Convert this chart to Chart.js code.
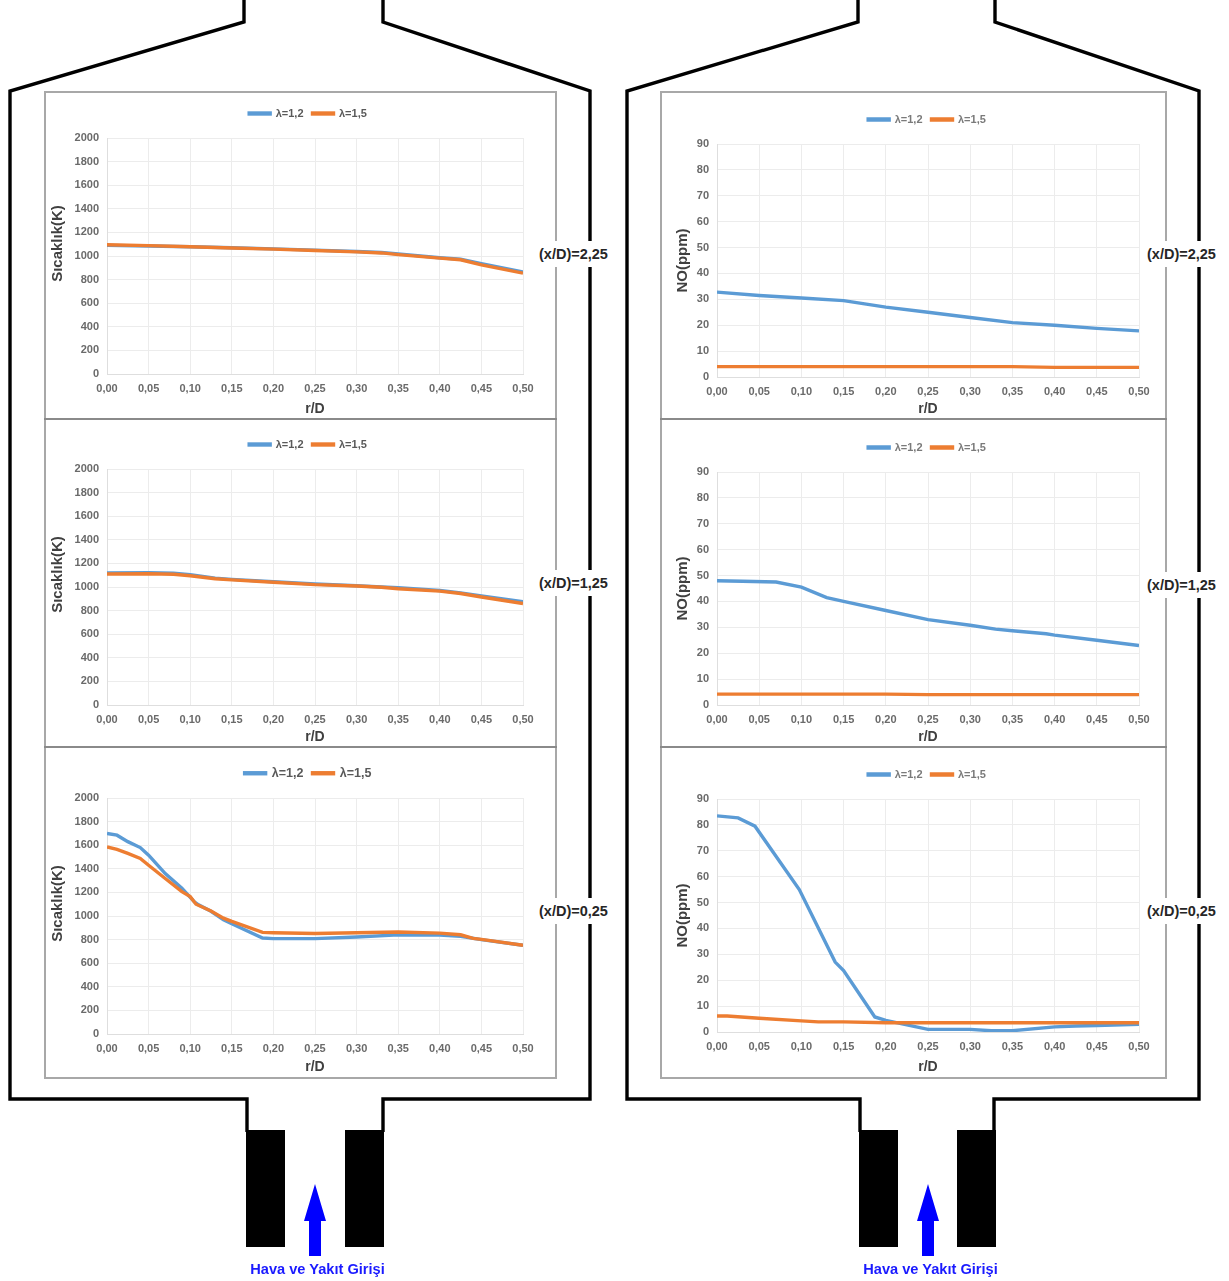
<!DOCTYPE html>
<html lang="tr">
<head>
<meta charset="utf-8">
<title>Sıcaklık ve NO dağılımı</title>
<script src="https://cdn.jsdelivr.net/npm/chart.js@4/dist/chart.umd.min.js"></script>
<style>
  html, body { margin: 0; padding: 0; background: #fff; }
  #stage { position: relative; width: 1229px; height: 1281px; overflow: hidden; filter: blur(0.6px); font-family: "Liberation Sans", Arial, sans-serif; }
  #stage svg { position: absolute; left: 0; top: 0; }
  #stage canvas { position: absolute; }
  .panel { position: absolute; box-sizing: border-box; border: 2px solid #a8a8a8; background: #fff; }
  .divider { position: absolute; height: 2px; background: #8a8a8a; }
  .station { position: absolute; background: #fff; font-weight: bold; font-size: 14.5px; color: #262626; padding: 5px 0; line-height: 16px; white-space: nowrap; }
  .inlet { position: absolute; font-weight: bold; font-size: 14.6px; color: #1a1aff; white-space: nowrap; transform: translateX(-50%); }
</style>
</head>
<body>
<div id="stage">
  <svg width="1229" height="1281" fill="none" stroke="#000" stroke-width="3.4">
    <polyline points="244,0 244,22 10,91 10,1099 247,1099 247,1132"/>
    <polyline points="383,1132 383,1099 590,1099 590,91 383,22 383,0"/>
    <polyline points="858,0 858,22 627,91 627,1099 860,1099 860,1132"/>
    <polyline points="994,1132 994,1099 1199,1099 1199,91 995,22 995,0"/>
    <g fill="#000" stroke="none">
      <rect x="246" y="1130" width="39" height="117"/>
      <rect x="345" y="1130" width="39" height="117"/>
      <rect x="859" y="1130" width="39" height="117"/>
      <rect x="957" y="1130" width="39" height="117"/>
    </g>
    <g fill="#0000ff" stroke="none">
      <polygon points="315,1184 326,1221 321,1221 321,1256 309,1256 309,1221 304,1221"/>
      <polygon points="928,1184 939,1221 934,1221 934,1256 922,1256 922,1221 917,1221"/>
    </g>
  </svg>

  <div class="panel" style="left:44px;top:91px;width:513px;height:988px"></div>
  <div class="divider" style="left:44px;top:418px;width:513px"></div>
  <div class="divider" style="left:44px;top:746px;width:513px"></div>
  <div class="panel" style="left:660px;top:91px;width:507px;height:988px"></div>
  <div class="divider" style="left:660px;top:418px;width:507px"></div>
  <div class="divider" style="left:660px;top:746px;width:507px"></div>

  <canvas id="tempTop"></canvas>
  <canvas id="tempMid"></canvas>
  <canvas id="tempLow"></canvas>
  <canvas id="noTop"></canvas>
  <canvas id="noMid"></canvas>
  <canvas id="noLow"></canvas>

  <div class="station" style="left:539px;top:241px">(x/D)=2,25</div>
  <div class="station" style="left:539px;top:570px">(x/D)=1,25</div>
  <div class="station" style="left:539px;top:898px">(x/D)=0,25</div>
  <div class="station" style="left:1147px;top:241px">(x/D)=2,25</div>
  <div class="station" style="left:1147px;top:572px">(x/D)=1,25</div>
  <div class="station" style="left:1147px;top:898px">(x/D)=0,25</div>

  <div class="inlet" style="left:317.5px;top:1261px">Hava ve Yakıt Girişi</div>
  <div class="inlet" style="left:930.5px;top:1261px">Hava ve Yakıt Girişi</div>
</div>

<script>
// values, [r/D, value]
const tempTopA = [[0,1090],[0.05,1085],[0.1,1078],[0.15,1070],[0.2,1060],[0.25,1050],[0.3,1038],[0.33,1030],[0.35,1018],[0.4,985],[0.425,972],[0.45,935],[0.5,865]];
const tempTopB = [[0,1095],[0.05,1088],[0.1,1078],[0.15,1068],[0.2,1058],[0.25,1047],[0.3,1035],[0.33,1026],[0.35,1012],[0.4,982],[0.425,968],[0.45,925],[0.5,855]];

const tempMidA = [[0,1120],[0.05,1122],[0.08,1118],[0.1,1105],[0.13,1075],[0.15,1065],[0.2,1045],[0.25,1025],[0.3,1010],[0.33,1000],[0.35,995],[0.4,970],[0.425,950],[0.45,925],[0.5,875]];
const tempMidB = [[0,1110],[0.05,1112],[0.08,1108],[0.1,1095],[0.13,1070],[0.15,1060],[0.2,1040],[0.25,1020],[0.3,1008],[0.33,998],[0.35,985],[0.4,965],[0.425,945],[0.45,915],[0.5,860]];

const tempLowA = [[0,1700],[0.012,1685],[0.025,1630],[0.04,1580],[0.05,1515],[0.07,1360],[0.09,1235],[0.105,1120],[0.11,1095],[0.125,1040],[0.14,968],[0.15,935],[0.187,813],[0.2,808],[0.25,808],[0.3,822],[0.35,840],[0.4,838],[0.425,828],[0.45,800],[0.5,752]];
const tempLowB = [[0,1585],[0.012,1565],[0.025,1530],[0.04,1487],[0.05,1430],[0.07,1318],[0.09,1206],[0.1,1164],[0.107,1100],[0.125,1043],[0.14,982],[0.15,954],[0.187,861],[0.2,858],[0.25,852],[0.3,858],[0.35,864],[0.4,855],[0.425,841],[0.44,810],[0.45,802],[0.5,752]];

const noTopA = [[0,32.8],[0.05,31.5],[0.1,30.5],[0.15,29.5],[0.2,27],[0.25,25],[0.3,23],[0.35,21],[0.4,20],[0.45,18.8],[0.5,17.8]];
const noTopB = [[0,4],[0.1,4],[0.2,4],[0.3,4],[0.35,4],[0.4,3.7],[0.5,3.7]];

const noMidA = [[0,48],[0.03,47.8],[0.07,47.5],[0.1,45.5],[0.13,41.5],[0.15,40],[0.2,36.5],[0.25,33],[0.3,30.8],[0.33,29.3],[0.35,28.7],[0.39,27.5],[0.4,27],[0.45,25],[0.5,23]];
const noMidB = [[0,4.2],[0.1,4.2],[0.2,4.2],[0.25,4],[0.35,4],[0.5,4]];

const noLowA = [[0,83.5],[0.025,82.7],[0.045,79.5],[0.0975,55],[0.14,27],[0.15,23.7],[0.187,5.8],[0.2,4.5],[0.25,1],[0.3,1],[0.325,0.5],[0.35,0.5],[0.4,2],[0.425,2.3],[0.45,2.5],[0.5,3]];
const noLowB = [[0,6.2],[0.012,6.2],[0.05,5.3],[0.1,4.3],[0.12,3.9],[0.15,3.9],[0.2,3.6],[0.25,3.6],[0.5,3.6]];

const seriesNames = ['λ=1,2', 'λ=1,5'];
const seriesColors = ['#5b9bd5', '#ed7d31'];
const tempLabel = '      Sıcaklık(K)'; // leading spaces lift it above the axis centre, as in the original
const noLabel = 'NO(ppm)';

function toPoints(pairs) {
  return pairs.map(p => ({ x: p[0], y: p[1] }));
}

// legend spacing and centre can't be set by options alone
function legendPlacer(gap, legendX) {
  return {
    id: 'legendPlacer',
    beforeInit(chart) {
      const fit = chart.legend.fit;
      chart.legend.fit = function () {
        fit.call(this);
        this.height += gap;
      };
    },
    afterLayout(chart) {
      const shift = legendX - (chart.legend.left + chart.legend.right) / 2;
      chart.legend.left += shift;
      chart.legend.right += shift;
    }
  };
}

// box = target plot area and where the legend sits
function drawPanel(id, a, b, yLabel, yMax, yStep, box) {
  const legendFont = box.legendFont || 11;
  const legendPad = 9;
  const top = box.legendY - legendPad - 5;
  const width = box.right + 46 - box.canvasLeft;
  const height = box.bottomEdge - top;
  const canvas = document.getElementById(id);
  canvas.width = width;
  canvas.height = height;
  canvas.style.left = box.canvasLeft + 'px';
  canvas.style.top = top + 'px';
  canvas.style.width = width + 'px';
  canvas.style.height = height + 'px';

  return new Chart(canvas, {
    type: 'line',
    plugins: [legendPlacer(box.top - top - 2 * legendPad - legendFont, box.legendX - box.canvasLeft)],
    data: {
      datasets: [a, b].map((pairs, i) => ({
        label: seriesNames[i],
        data: toPoints(pairs),
        borderColor: seriesColors[i],
        backgroundColor: seriesColors[i],
        borderWidth: 3.4,
        pointRadius: 0,
        tension: 0,
        order: -i
      }))
    },
    options: {
      responsive: false,
      animation: false,
      layout: { padding: { right: 46 } },
      plugins: {
        tooltip: { enabled: false },
        legend: {
          position: 'top',
          labels: {
            boxWidth: 21,
            boxHeight: 1,
            padding: legendPad,
            color: box.legendColor,
            sort: (x, y) => x.datasetIndex - y.datasetIndex,
            font: { family: 'Liberation Sans', weight: 'bold', size: legendFont }
          }
        }
      },
      scales: {
        x: {
          type: 'linear',
          min: 0,
          max: 0.5,
          afterFit: s => { s.height = box.bottomEdge - box.bottom; },
          title: { display: true, text: 'r/D', color: '#404040', padding: { top: 3, bottom: 0 }, font: { family: 'Liberation Sans', weight: 'bold', size: 14 } },
          grid: { color: '#ececec', drawTicks: false },
          border: { color: '#dedede' },
          ticks: {
            stepSize: 0.05,
            padding: 8,
            maxRotation: 0,
            color: '#6a6a6a',
            font: { family: 'Liberation Sans', weight: 'bold', size: 11 },
            callback: v => v.toFixed(2).replace('.', ',')
          }
        },
        y: {
          min: 0,
          max: yMax,
          afterFit: s => { s.width = box.left - box.canvasLeft; },
          title: { display: true, text: yLabel, color: '#404040', padding: { top: 0, bottom: 0 }, font: { family: 'Liberation Sans', weight: 'bold', size: 15 } },
          grid: { color: '#ececec', drawTicks: false },
          border: { color: '#dedede' },
          ticks: {
            stepSize: yStep,
            padding: 8,
            color: '#6a6a6a',
            font: { family: 'Liberation Sans', weight: 'bold', size: 11 },
            callback: v => String(v)
          }
        }
      }
    }
  });
}

const leftCol = { left: 107, right: 523, canvasLeft: 49, legendX: 308, legendColor: '#595959' };
const rightCol = { left: 717, right: 1139, canvasLeft: 674, legendX: 927, legendColor: '#7a7a7a' };

drawPanel('tempTop', tempTopA, tempTopB, tempLabel, 2000, 200, { ...leftCol, top: 137, bottom: 374, bottomEdge: 418, legendY: 113 });
drawPanel('tempMid', tempMidA, tempMidB, tempLabel, 2000, 200, { ...leftCol, top: 468, bottom: 705, bottomEdge: 746, legendY: 444 });
drawPanel('tempLow', tempLowA, tempLowB, tempLabel, 2000, 200, { ...leftCol, top: 797, bottom: 1034, bottomEdge: 1076, legendY: 772, legendFont: 12.5 });
drawPanel('noTop', noTopA, noTopB, noLabel, 90, 10, { ...rightCol, top: 143, bottom: 377, bottomEdge: 418, legendY: 119 });
drawPanel('noMid', noMidA, noMidB, noLabel, 90, 10, { ...rightCol, top: 471, bottom: 705, bottomEdge: 746, legendY: 447 });
drawPanel('noLow', noLowA, noLowB, noLabel, 90, 10, { ...rightCol, top: 798, bottom: 1032, bottomEdge: 1076, legendY: 774 });
</script>
</body>
</html>
